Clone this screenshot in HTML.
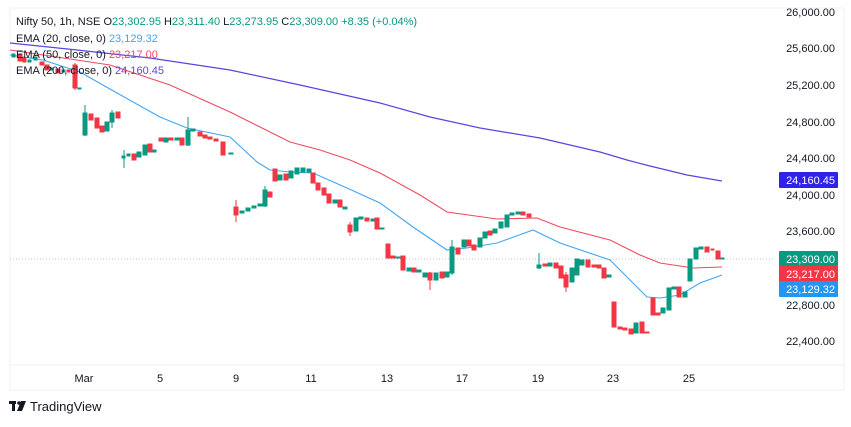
<!DOCTYPE html>
<html><head><meta charset="utf-8"><style>
html,body{margin:0;padding:0;background:#fff;}
body{width:851px;height:422px;overflow:hidden;position:relative;font-family:"Liberation Sans",sans-serif;}
svg text{font-family:"Liberation Sans",sans-serif;}
</style></head><body>
<svg width="851" height="422" viewBox="0 0 851 422" xmlns="http://www.w3.org/2000/svg">
<rect x="10" y="8" width="834" height="382" fill="#fff" stroke="#eef0f3"/>
<line x1="10" y1="365" x2="844" y2="365" stroke="#eef0f3"/>
<line x1="10" y1="259" x2="775" y2="259" stroke="#c5c8ce" stroke-dasharray="1,2"/>
<!-- EMA lines -->
<polyline fill="none" stroke="#5b45e0" stroke-width="1.2" points="10,43 77,50 150,58 230,70 300,85 380,103 430,117 480,128 540,138 600,152 627,160 650,166 687,175 722,181"/>
<polyline fill="none" stroke="#f04a5e" stroke-width="1.1" points="10,50 110,65 170,85 230,112 290,142 320,150 350,160 380,173 420,195 447,212 497,219 537,218 560,227 610,240 640,255 660,263 693,268 722,267"/>
<polyline fill="none" stroke="#42a5f5" stroke-width="1.1" points="10,55 43,60 80,72 117,93 160,117 187,128 230,137 257,162 270,170 290,172 313,173 347,188 380,203 413,227 447,250 467,248 497,243 533,230 560,243 610,260 647,297 660,298 680,295 700,283 722,275"/>
<g stroke-width="1">
<!-- candles: generated by hand -->
<g fill="#089981" stroke="#089981">
<rect x="12" y="54" width="3" height="3"/><rect x="28" y="60" width="3" height="2"/><rect x="34" y="57" width="3" height="3"/>
<rect x="50" y="68" width="3" height="2"/><rect x="62" y="70" width="3" height="2"/><rect x="78" y="88" width="3" height="1"/>
<line x1="85" y1="105" x2="85" y2="136"/><rect x="83" y="113" width="4" height="22"/>
<rect x="105" y="122" width="4" height="9"/><line x1="112" y1="110" x2="112" y2="128"/><rect x="110" y="113" width="4" height="9"/>
<line x1="124" y1="150" x2="124" y2="168"/><rect x="122" y="156" width="3" height="2"/><rect x="127" y="154" width="3" height="2"/>
<rect x="137" y="152" width="4" height="5"/><rect x="143" y="145" width="4" height="10"/><rect x="153" y="150" width="3" height="2"/>
<rect x="164" y="138" width="4" height="4"/><rect x="175" y="138" width="4" height="2"/>
<line x1="188" y1="117" x2="188" y2="146"/><rect x="186" y="130" width="4" height="15"/><rect x="191" y="129" width="4" height="2"/>
<rect x="229" y="153" width="4" height="1"/>
<rect x="240" y="211" width="4" height="2"/><rect x="246" y="208" width="4" height="3"/><rect x="252" y="206" width="4" height="2"/><rect x="258" y="204" width="4" height="2"/>
<line x1="265" y1="186" x2="265" y2="207"/><rect x="263" y="190" width="4" height="16"/>
<rect x="278" y="175" width="4" height="5"/><rect x="289" y="171" width="4" height="7"/><rect x="295" y="168" width="4" height="6"/><rect x="301" y="168" width="4" height="4"/><rect x="307" y="169" width="4" height="3"/>
<rect x="333" y="200" width="4" height="3"/><rect x="343" y="207" width="4" height="2"/>
<rect x="354" y="218" width="4" height="13"/><rect x="359" y="217" width="4" height="2"/><rect x="371" y="219" width="4" height="2"/><rect x="380" y="228" width="4" height="1"/>
<rect x="396" y="257" width="4" height="1"/><rect x="407" y="268" width="4" height="3"/><rect x="417" y="270" width="4" height="2"/><rect x="423" y="273" width="4" height="4"/>
<rect x="434" y="273" width="4" height="7"/><rect x="445" y="272" width="4" height="5"/>
<line x1="452" y1="240" x2="452" y2="275"/><rect x="450" y="247" width="4" height="26"/>
<rect x="462" y="240" width="4" height="7"/><rect x="478" y="238" width="4" height="9"/><rect x="483" y="232" width="4" height="6"/><rect x="493" y="229" width="4" height="4"/>
<rect x="499" y="222" width="4" height="6"/><rect x="505" y="215" width="4" height="12"/><rect x="510" y="213" width="4" height="2"/><rect x="516" y="212" width="4" height="2"/>
<line x1="539" y1="253" x2="539" y2="269"/><rect x="537" y="265" width="4" height="3"/><rect x="548" y="263" width="4" height="3"/>
<rect x="570" y="268" width="4" height="14"/><rect x="575" y="259" width="4" height="16"/><rect x="580" y="260" width="4" height="5"/><rect x="607" y="275" width="4" height="2"/>
<rect x="634" y="323" width="4" height="10"/><rect x="661" y="308" width="4" height="5"/><rect x="667" y="288" width="4" height="22"/><rect x="672" y="287" width="4" height="2"/>
<rect x="683" y="292" width="4" height="5"/><rect x="688" y="259" width="4" height="22"/><rect x="694" y="248" width="4" height="11"/><rect x="699" y="247" width="4" height="2"/><rect x="721" y="258" width="3" height="1"/>
</g>
<g fill="#f23645" stroke="#f23645">
<rect x="18" y="55" width="4" height="6"/><rect x="23" y="58" width="3" height="4"/><rect x="40" y="62" width="4" height="3"/><rect x="45" y="65" width="4" height="5"/>
<rect x="56" y="69" width="4" height="4"/><rect x="67" y="70" width="3" height="2"/><line x1="75" y1="63" x2="75" y2="90"/><rect x="73" y="65" width="4" height="23"/>
<rect x="89" y="114" width="4" height="6"/><rect x="95" y="118" width="4" height="10"/><rect x="100" y="126" width="4" height="6"/><rect x="116" y="112" width="4" height="6"/>
<rect x="132" y="154" width="4" height="6"/><rect x="148" y="144" width="4" height="8"/>
<rect x="159" y="138" width="4" height="3"/><rect x="169" y="138" width="4" height="2"/><rect x="180" y="138" width="4" height="7"/>
<rect x="198" y="132" width="4" height="4"/><rect x="203" y="135" width="4" height="3"/><rect x="208" y="137" width="4" height="2"/><rect x="214" y="139" width="4" height="2"/>
<rect x="221" y="142" width="4" height="13"/>
<line x1="236" y1="200" x2="236" y2="222"/><rect x="234" y="207" width="4" height="8"/><rect x="268" y="192" width="4" height="5"/>
<rect x="273" y="169" width="4" height="12"/><rect x="284" y="174" width="4" height="6"/>
<rect x="311" y="173" width="4" height="10"/><rect x="316" y="183" width="4" height="7"/><rect x="322" y="188" width="4" height="7"/><rect x="327" y="194" width="4" height="9"/><rect x="338" y="200" width="4" height="7"/>
<line x1="350" y1="222" x2="350" y2="236"/><rect x="348" y="225" width="4" height="7"/><rect x="365" y="218" width="4" height="3"/><rect x="375" y="218" width="4" height="11"/>
<rect x="386" y="244" width="4" height="14"/><rect x="391" y="256" width="4" height="2"/><rect x="401" y="256" width="4" height="14"/><rect x="412" y="268" width="4" height="4"/>
<line x1="430" y1="272" x2="430" y2="290"/><rect x="428" y="273" width="4" height="7"/><rect x="440" y="272" width="4" height="6"/>
<rect x="456" y="248" width="4" height="6"/><rect x="467" y="240" width="4" height="6"/><rect x="472" y="245" width="4" height="5"/><rect x="488" y="231" width="4" height="4"/>
<rect x="521" y="212" width="4" height="3"/><rect x="527" y="214" width="4" height="3"/>
<rect x="543" y="264" width="4" height="2"/><rect x="554" y="263" width="4" height="5"/><rect x="559" y="266" width="4" height="12"/><line x1="566" y1="272" x2="566" y2="292"/><rect x="564" y="275" width="4" height="12"/>
<rect x="586" y="260" width="4" height="7"/><rect x="592" y="265" width="4" height="2"/><rect x="597" y="265" width="4" height="3"/><rect x="602" y="268" width="4" height="10"/>
<rect x="612" y="302" width="4" height="25"/><rect x="618" y="327" width="4" height="2"/><rect x="623" y="328" width="4" height="2"/><rect x="629" y="329" width="4" height="5"/>
<rect x="640" y="322" width="4" height="11"/><rect x="645" y="332" width="4" height="1"/>
<rect x="651" y="298" width="4" height="17"/><rect x="656" y="313" width="4" height="2"/><rect x="677" y="287" width="4" height="10"/>
<rect x="705" y="247" width="4" height="5"/><rect x="711" y="249" width="3" height="1"/><rect x="716" y="251" width="4" height="8"/>
</g>
</g>
<!-- legend -->
<g font-size="11">
<text x="16" y="25" fill="#131722">Nifty 50, 1h, NSE <tspan fill="#131722">O</tspan><tspan fill="#089981">23,302.95</tspan> <tspan fill="#131722">H</tspan><tspan fill="#089981">23,311.40</tspan> <tspan fill="#131722">L</tspan><tspan fill="#089981">23,273.95</tspan> <tspan fill="#131722">C</tspan><tspan fill="#089981">23,309.00</tspan> <tspan fill="#089981">+8.35 (+0.04%)</tspan></text>
<text x="16" y="42" fill="#131722">EMA (20, close, 0) <tspan fill="#42a5f5">23,129.32</tspan></text>
<text x="16" y="58" fill="#131722">EMA (50, close, 0) <tspan fill="#f04a5e">23,217.00</tspan></text>
<text x="16" y="74" fill="#131722">EMA (200, close, 0) <tspan fill="#5b45e0">24,160.45</tspan></text>
</g>
<!-- y axis -->
<g font-size="11" fill="#131722" text-anchor="end">
<text x="835" y="16">26,000.00</text>
<text x="835" y="52">25,600.00</text>
<text x="835" y="89">25,200.00</text>
<text x="835" y="126">24,800.00</text>
<text x="835" y="162">24,400.00</text>
<text x="835" y="199">24,000.00</text>
<text x="835" y="235">23,600.00</text>
<text x="835" y="309">22,800.00</text>
<text x="835" y="345">22,400.00</text>
</g>
<rect x="779" y="172" width="59" height="16" rx="1" fill="#3022e8"/>
<rect x="779" y="251" width="59" height="16" rx="1" fill="#089981"/>
<rect x="779" y="266" width="59" height="16" rx="1" fill="#f23645"/>
<rect x="779" y="281" width="59" height="16" rx="1" fill="#2196f3"/>
<g font-size="11" fill="#fff" text-anchor="end">
<text x="835" y="184">24,160.45</text>
<text x="835" y="263">23,309.00</text>
<text x="835" y="278">23,217.00</text>
<text x="835" y="293">23,129.32</text>
</g>
<!-- x axis -->
<g font-size="11" fill="#131722" text-anchor="middle">
<text x="84" y="382">Mar</text><text x="160" y="382">5</text><text x="236" y="382">9</text>
<text x="311" y="382">11</text><text x="387" y="382">13</text><text x="462" y="382">17</text>
<text x="538" y="382">19</text><text x="613" y="382">23</text><text x="689" y="382">25</text>
</g>
<!-- logo -->
<g fill="#131722">
<rect x="9" y="401" width="7" height="3"/><rect x="12" y="401" width="3" height="10"/>
<circle cx="19" cy="403" r="1.8"/><polygon points="21,401 26,401 22,411 17,411"/>
<text x="30" y="411" font-size="13">TradingView</text>
</g>
</svg>
</body></html>
